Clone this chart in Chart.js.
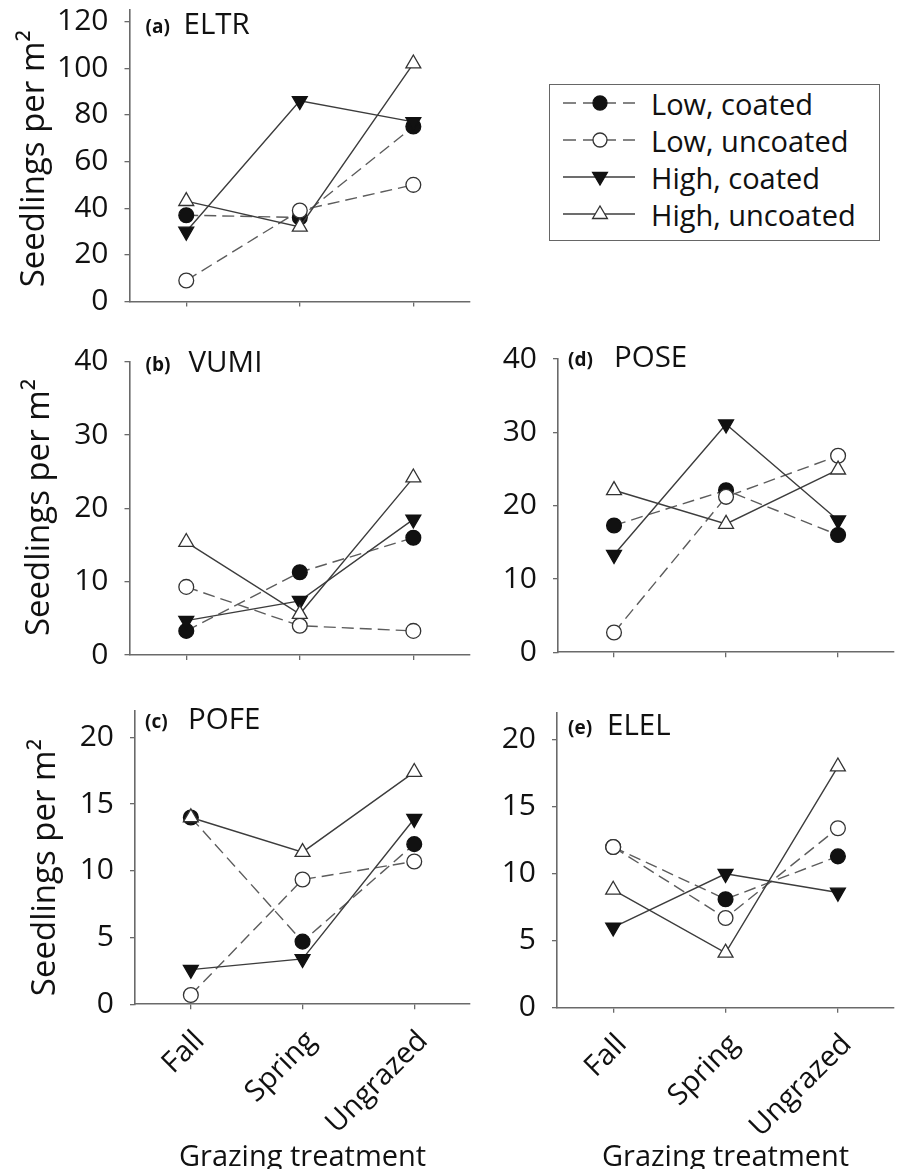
<!DOCTYPE html>
<html>
<head>
<meta charset="utf-8">
<script src="https://cdn.jsdelivr.net/npm/chart.js@4.4.1/dist/chart.umd.min.js"></script>
<style>
html,body{margin:0;padding:0;background:#fff;width:904px;height:1169px;overflow:hidden;position:relative;font-family:'Open Sans',sans-serif;}
canvas{position:absolute;}
#legend{position:absolute;left:549px;top:84px;width:331px;height:157px;border:1.5px solid #666;box-sizing:border-box;}
.row{position:absolute;left:0;height:37px;width:100%;}
.row svg{position:absolute;left:13px;top:0;}
.row span{position:absolute;left:101px;top:0;font-size:29px;line-height:37px;color:#111;white-space:nowrap;}
</style>
</head>
<body>
<canvas id="pa"></canvas>
<canvas id="pb"></canvas>
<canvas id="pd"></canvas>
<canvas id="pc"></canvas>
<canvas id="pe"></canvas>
<div id="legend"></div>
<script>
// ---------- DATA ----------
const categories = ['Fall', 'Spring', 'Ungrazed'];
const seriesNames = ['Low, coated', 'Low, uncoated', 'High, coated', 'High, uncoated'];

// (a) ELTR
const eltrLowCoated    = [37, 36, 75];
const eltrLowUncoated  = [9, 39, 50];
const eltrHighCoated   = [30, 86, 77];
const eltrHighUncoated = [43, 32, 102];
const eltrTicks = [0, 20, 40, 60, 80, 100, 120];

// (b) VUMI
const vumiLowCoated    = [3.3, 11.3, 16.0];
const vumiLowUncoated  = [9.3, 4.0, 3.3];
const vumiHighCoated   = [4.7, 7.4, 18.5];
const vumiHighUncoated = [15.4, 5.6, 24.2];
const vumiTicks = [0, 10, 20, 30, 40];

// (d) POSE
const poseLowCoated    = [17.3, 22.1, 16.0];
const poseLowUncoated  = [2.7, 21.2, 26.8];
const poseHighCoated   = [13.3, 31.1, 18.0];
const poseHighUncoated = [22.1, 17.5, 24.9];
const poseTicks = [0, 10, 20, 30, 40];

// (c) POFE
const pofeLowCoated    = [14.0, 4.7, 12.0];
const pofeLowUncoated  = [0.7, 9.35, 10.7];
const pofeHighCoated   = [2.6, 3.4, 13.9];
const pofeHighUncoated = [14.0, 11.4, 17.4];
const pofeTicks = [0, 5, 10, 15, 20];

// (e) ELEL
const elelLowCoated    = [12.0, 8.1, 11.3];
const elelLowUncoated  = [12.0, 6.7, 13.4];
const elelHighCoated   = [6.0, 10.0, 8.6];
const elelHighUncoated = [8.8, 4.1, 18.0];
const elelTicks = [0, 5, 10, 15, 20];

const yTitle = 'Seedlings per m\u00B2';
const xTitle = 'Grazing treatment';

// ---------- STYLES ----------
const FONT = "'Open Sans', sans-serif";
const AXIS = '#6a6a6a';
const seriesStyles = [
  {dash:[12,6], line:'#5c5c5c', point:'circle',   rot:0,   r:7.4, fill:'#111', stroke:'#111', order:4},
  {dash:[12,6], line:'#5c5c5c', point:'circle',   rot:0,   r:7.4, fill:'#fff', stroke:'#333', order:3},
  {dash:[],     line:'#3c3c3c', point:'triangle', rot:180, r:8.6, fill:'#111', stroke:'#111', order:2},
  {dash:[],     line:'#3c3c3c', point:'triangle', rot:0,   r:8.6, fill:'#fff', stroke:'#333', order:1}
];

// panel tag + species name, and the rotated y title
const panelLabelPlugin = {
  id: 'panelLabel',
  afterDraw(chart, args, o) {
    const ctx = chart.ctx, a = chart.chartArea;
    ctx.save();
    ctx.fillStyle = '#111';
    ctx.textAlign = 'left';
    ctx.textBaseline = 'alphabetic';
    ctx.font = "bold 19px " + FONT;
    ctx.fillText(o.tag, a.left + o.tagDx, a.top + o.dy - 1);
    ctx.font = "29.5px " + FONT;
    ctx.fillText(o.name, a.left + o.nameDx, a.top + o.dy);
    if (o.yTitle) {
      ctx.translate(a.left - o.yTitleDx, (a.top + a.bottom) / 2 + o.yTitleDy);
      ctx.rotate(-Math.PI / 2);
      ctx.textAlign = 'center';
      ctx.textBaseline = 'middle';
      ctx.font = "33px " + FONT;
      ctx.fillText(o.yTitle, 0, 0);
    }
    ctx.restore();
  }
};

function makePanel(id, box, area, series, yMax, yTicks, showX, label) {
  const cv = document.getElementById(id);
  cv.style.left = box.x + 'px'; cv.style.top = box.y + 'px';
  cv.width = box.w; cv.height = box.h;
  cv.style.width = box.w + 'px'; cv.style.height = box.h + 'px';
  const yW = area.l - box.x;
  const xH = box.y + box.h - area.b;
  const datasets = series.map((vals, i) => {
    const s = seriesStyles[i];
    return {
      label: seriesNames[i],
      data: vals,
      borderColor: s.line,
      borderWidth: 1.4,
      borderDash: s.dash,
      pointStyle: s.point,
      pointRotation: s.rot,
      pointRadius: s.r,
      pointBackgroundColor: s.fill,
      pointBorderColor: s.stroke,
      pointBorderWidth: 1.3,
      tension: 0,
      fill: false,
      clip: false,
      order: s.order
    };
  });
  return new Chart(cv, {
    type: 'line',
    data: {labels: categories, datasets},
    options: {
      responsive: false,
      animation: false,
      devicePixelRatio: 1,
      layout: {padding: {left: 0, top: area.t - box.y, right: box.x + box.w - area.r, bottom: 0}},
      plugins: {
        legend: {display: false},
        tooltip: {enabled: false},
        panelLabel: label
      },
      scales: {
        x: {
          type: 'category',
          offset: true,
          grid: {display: true, drawOnChartArea: false, drawTicks: true, tickLength: 5, color: AXIS, lineWidth: 1.3, offset: false},
          border: {display: true, color: AXIS, width: 1.6},
          ticks: {display: showX, color: '#111', font: {family: FONT, size: 29, lineHeight: 0.01}, minRotation: 45, maxRotation: 45, autoSkip: false, padding: 27, labelOffset: 9},
          title: {display: showX, text: xTitle, color: '#111', font: {family: FONT, size: 29, lineHeight: 0.75}, padding: {top: 0, bottom: 0}},
          afterFit: s => { s.height = xH; s.paddingLeft = 0; s.paddingRight = 0; }
        },
        y: {
          type: 'linear',
          min: 0,
          max: yMax,
          grid: {display: true, drawOnChartArea: false, drawTicks: true, tickLength: 5, color: AXIS, lineWidth: 1.3},
          border: {display: true, color: AXIS, width: 1.6},
          afterBuildTicks: s => { s.ticks = yTicks.map(v => ({value: v})); },
          ticks: {color: '#111', font: {family: FONT, size: 30}, padding: 16, crossAlign: 'near'},
          afterFit: s => { s.width = yW; s.paddingTop = 0; s.paddingBottom = 0; }
        }
      }
    },
    plugins: [panelLabelPlugin]
  });
}

function buildLegend() {
  const lg = document.getElementById('legend');
  seriesNames.forEach((name, i) => {
    const s = seriesStyles[i];
    const row = document.createElement('div');
    row.className = 'row';
    row.style.top = (i * 37) + 'px';
    const cy = 18;
    let marker;
    if (s.point === 'circle') {
      marker = `<circle cx="37" cy="${cy}" r="7" fill="${s.fill}" stroke="${s.stroke}" stroke-width="1.3"/>`;
    } else if (s.rot === 180) {
      marker = `<polygon points="29.6,${cy-4.5} 44.4,${cy-4.5} 37,${cy+8}" fill="${s.fill}" stroke="${s.stroke}" stroke-width="1.3"/>`;
    } else {
      marker = `<polygon points="29.6,${cy+4.5} 44.4,${cy+4.5} 37,${cy-8}" fill="${s.fill}" stroke="${s.stroke}" stroke-width="1.3"/>`;
    }
    const dash = s.dash.length ? `stroke-dasharray="13,7"` : '';
    row.innerHTML = `<svg width="72" height="37"><line x1="0" y1="${cy}" x2="72" y2="${cy}" stroke="${s.line}" stroke-width="1.4" ${dash}/>${marker}</svg><span>${name}</span>`;
    lg.appendChild(row);
  });
}

function drawAll() {
  makePanel('pa', {x:0, y:0, w:480, h:325}, {l:129.5, t:9.3, r:470.5, b:301.5},
    [eltrLowCoated, eltrLowUncoated, eltrHighCoated, eltrHighUncoated], 125, eltrTicks, false,
    {tag:'(a)', name:'ELTR', tagDx:16, nameDx:54, dy:24, yTitle:yTitle, yTitleDx:95, yTitleDy:3});
  makePanel('pb', {x:0, y:325, w:480, h:340}, {l:129.5, t:361.7, r:470.5, b:656},
    [vumiLowCoated, vumiLowUncoated, vumiHighCoated, vumiHighUncoated], 40, vumiTicks, false,
    {tag:'(b)', name:'VUMI', tagDx:16, nameDx:59, dy:10, yTitle:yTitle, yTitleDx:90, yTitleDy:-1});
  makePanel('pd', {x:480, y:325, w:424, h:340}, {l:558, t:359, r:898.5, b:652.3},
    [poseLowCoated, poseLowUncoated, poseHighCoated, poseHighUncoated], 40, poseTicks, false,
    {tag:'(d)', name:'POSE', tagDx:10, nameDx:56, dy:8});
  makePanel('pc', {x:0, y:665, w:480, h:504}, {l:135, t:710.7, r:475, b:1004.3},
    [pofeLowCoated, pofeLowUncoated, pofeHighCoated, pofeHighUncoated], 22, pofeTicks, true,
    {tag:'(c)', name:'POFE', tagDx:10, nameDx:53, dy:18, yTitle:yTitle, yTitleDx:89, yTitleDy:10});
  makePanel('pe', {x:480, y:665, w:424, h:504}, {l:557, t:713, r:897, b:1007.7},
    [elelLowCoated, elelLowUncoated, elelHighCoated, elelHighUncoated], 22, elelTicks, true,
    {tag:'(e)', name:'ELEL', tagDx:11, nameDx:50, dy:22});
  buildLegend();
}

let done = false;
function go() { if (!done) { done = true; drawAll(); } }
if (document.fonts && document.fonts.load) {
  Promise.all([
    document.fonts.load("28px 'Open Sans'"),
    document.fonts.load("bold 19px 'Open Sans'")
  ]).then(go, go);
  setTimeout(go, 600);
} else {
  go();
}
</script>
</body>
</html>
